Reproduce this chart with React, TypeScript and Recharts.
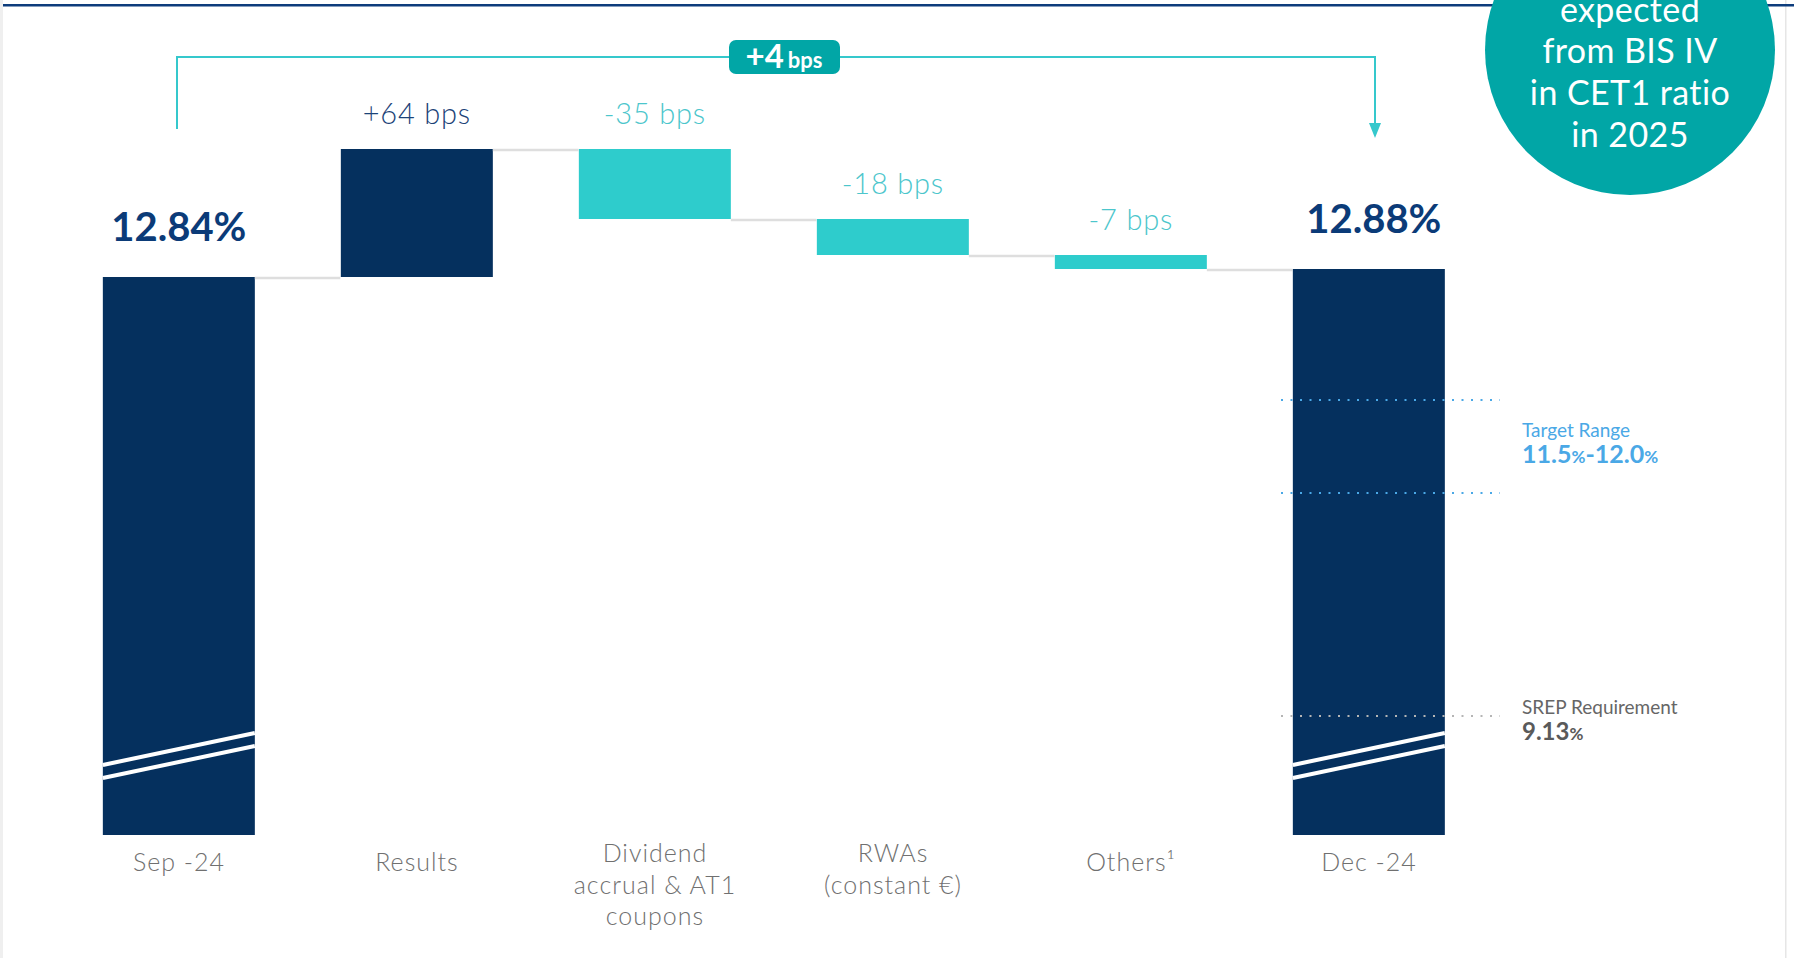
import { Bar, BarChart, LabelList, ReferenceLine, XAxis, YAxis } from 'recharts';

const categories = ['Sep -24', 'Results', 'Dividend\naccrual & AT1\ncoupons', 'RWAs\n(constant €)', 'Others¹', 'Dec -24'];
const startRatio = 12.84;
const endRatio = 12.88;
const changesBps = [64, -35, -18, -7];
const totalLabels = ['12.84%', '12.88%'];
const changeLabels = ['+64 bps', '-35 bps', '-18 bps', '-7 bps'];
const netChange = ['+4', 'bps'];
const circleLines = ['expected', 'from BIS IV', 'in CET1 ratio', 'in 2025'];
const targetRange = ['11.5', '12.0'];
const srepRequirement = '9.13';

// the axis is broken, so the dotted markers sit on schematic levels of the drawn scale
const targetLevels = [12.225, 11.76];
const srepLevel = 10.645;
const axisFloor = 10.05;
const axisTop = 13.8;

const NAVY = '#05305e';
const TEAL = '#2ecccc';
const CIRCLE = '#01a6a6';
const LIGHT_BLUE = '#4aa8e6';
const LIGHT_FONT = "'Lato Light', Lato, sans-serif";
const CATEGORY_GAP = 0.18;

type Row = {
  name: string;
  range: [number, number];
  label: string;
  kind: 'total' | 'up' | 'down';
  endAtTop: boolean;
  last: boolean;
};

function buildRows(): Row[] {
  const rows: Row[] = [
    { name: categories[0], range: [axisFloor, startRatio], label: totalLabels[0], kind: 'total', endAtTop: true, last: false }
  ];
  let level = startRatio;
  changesBps.forEach((bps, i) => {
    const next = Math.round((level + bps / 100) * 10000) / 10000;
    rows.push({
      name: categories[i + 1],
      range: [Math.min(level, next), Math.max(level, next)],
      label: changeLabels[i],
      kind: bps >= 0 ? 'up' : 'down',
      endAtTop: bps >= 0,
      last: false
    });
    level = next;
  });
  rows.push({ name: categories[5], range: [axisFloor, endRatio], label: totalLabels[1], kind: 'total', endAtTop: false, last: true });
  return rows;
}

const rows = buildRows();

function WaterfallBar(props: any) {
  const { x, y, width, height, payload } = props;
  const row: Row = payload;
  const fill = row.kind === 'down' ? TEAL : NAVY;
  const gapLen = (width * 2 * CATEGORY_GAP) / (1 - 2 * CATEGORY_GAP);
  const joinY = row.endAtTop ? y : y + height;
  const bottom = y + height;
  return (
    <g>
      <rect x={x} y={y} width={width} height={height} fill={fill} />
      {!row.last && (
        <line x1={x + width} x2={x + width + gapLen} y1={joinY + 1} y2={joinY + 1} stroke="#dedede" strokeWidth={2.5} />
      )}
      {row.kind === 'total' && (
        <g stroke="#ffffff" strokeWidth={4}>
          <line x1={x} y1={bottom - 70} x2={x + width} y2={bottom - 102} />
          <line x1={x} y1={bottom - 57} x2={x + width} y2={bottom - 89} />
        </g>
      )}
    </g>
  );
}

function BarLabel(props: any) {
  const box = props.viewBox ?? props;
  const row = rows.find((r) => r.label === props.value);
  if (!row) {
    return null;
  }
  const cx = box.x + box.width / 2;
  if (row.kind === 'total') {
    return (
      <text x={cx + (row.last ? 5 : 0)} y={box.y - 36} textAnchor="middle" fontFamily="Lato" fontWeight={700} fontSize={40} fill="#0b3b78">
        {props.value}
      </text>
    );
  }
  return (
    <text
      x={cx}
      y={box.y - 25}
      textAnchor="middle"
      fontFamily={LIGHT_FONT}
      fontWeight={300}
      fontSize={29}
      letterSpacing={0.8}
      fill={row.kind === 'down' ? '#4cc6cc' : '#1c4378'}
    >
      {props.value}
    </text>
  );
}

function CategoryTick(props: any) {
  const { x, y, payload } = props;
  const lines = String(payload.value).split('\n');
  const first = lines.length === 1 ? 36 : 27;
  return (
    <text textAnchor="middle" fontFamily={LIGHT_FONT} fontWeight={300} fontSize={25} letterSpacing={1} fill="#707070">
      {lines.map((line, i) => (
        <tspan key={i} x={x} y={y + first + i * 31.7}>
          {line}
        </tspan>
      ))}
    </text>
  );
}

function MarkerLine(props: any) {
  const right = Math.max(props.x1, props.x2);
  return (
    <line
      x1={right - 207}
      x2={right + 12}
      y1={props.y1}
      y2={props.y1}
      stroke={props.stroke}
      strokeWidth={2}
      strokeDasharray="2 7.5"
    />
  );
}

export default function App() {
  return (
    <div
      style={{
        position: 'absolute',
        left: 0,
        top: 0,
        width: 1794,
        height: 958,
        background: '#ffffff',
        overflow: 'hidden',
        fontFamily: 'Lato, sans-serif'
      }}
    >
      <BarChart
        width={1794}
        height={958}
        data={rows}
        margin={{ top: 85, right: 306, bottom: 23, left: 60 }}
        barCategoryGap={`${CATEGORY_GAP * 100}%`}
      >
        <XAxis
          dataKey="name"
          type="category"
          axisLine={false}
          tickLine={false}
          tickSize={0}
          tickMargin={0}
          interval={0}
          height={100}
          tick={<CategoryTick />}
        />
        <YAxis hide type="number" domain={[axisFloor, axisTop]} allowDataOverflow />
        <Bar dataKey="range" isAnimationActive={false} shape={(p: any) => <WaterfallBar {...p} />}>
          <LabelList dataKey="label" content={(p: any) => <BarLabel {...p} />} />
        </Bar>
        {targetLevels.map((level) => (
          <ReferenceLine key={level} y={level} stroke={LIGHT_BLUE} shape={(p: any) => <MarkerLine {...p} />} />
        ))}
        <ReferenceLine y={srepLevel} stroke="#b5b5b5" shape={(p: any) => <MarkerLine {...p} />} />
      </BarChart>
      <svg
        width={1794}
        height={958}
        style={{ position: 'absolute', left: 0, top: 0, pointerEvents: 'none' }}
        fontFamily="Lato"
      >
        <rect x={0} y={0} width={3} height={958} fill="#efefef" />
        <rect x={1785} y={0} width={1.5} height={958} fill="#e6e6e6" />
        <rect x={3} y={4} width={1794} height={2.5} fill="#0d3c7c" />

        <path d="M177 129 V57 H1375 V126" fill="none" stroke="#35c8cc" strokeWidth={2} />
        <polygon points="1369,123 1381,123 1375,138" fill="#35c8cc" />
        <rect x={729} y={40} width={111} height={34} rx={7} fill={CIRCLE} />
        <text x={784} y={68} textAnchor="middle" fill="#ffffff" fontWeight={700}>
          <tspan fontSize={33}>{netChange[0]}</tspan>
          <tspan fontSize={22} dx={4}>
            {netChange[1]}
          </tspan>
        </text>

        {/* the circle runs off the top of the slide, so its first line is clipped as in the source */}
        <circle cx={1630} cy={50} r={145} fill={CIRCLE} />
        <text textAnchor="middle" fill="#ffffff" fontSize={34} letterSpacing={0.4}>
          {circleLines.map((line, i) => (
            <tspan key={line} x={1630} y={21.7 + i * 41.7}>
              {line}
            </tspan>
          ))}
        </text>

        <text x={1522} y={436.5} fontSize={19} fill={LIGHT_BLUE}>
          Target Range
        </text>
        <text x={1522} y={462.5} fill={LIGHT_BLUE} fontWeight={700}>
          <tspan fontSize={25}>{targetRange[0]}</tspan>
          <tspan fontSize={17}>%</tspan>
          <tspan fontSize={25}>-{targetRange[1]}</tspan>
          <tspan fontSize={17}>%</tspan>
        </text>
        <text x={1522} y={714} fontSize={19} fill="#666666">
          SREP Requirement
        </text>
        <text x={1522} y={740} fill="#5a5a5a" fontWeight={700}>
          <tspan fontSize={24}>{srepRequirement}</tspan>
          <tspan fontSize={17}>%</tspan>
        </text>
      </svg>
    </div>
  );
}
